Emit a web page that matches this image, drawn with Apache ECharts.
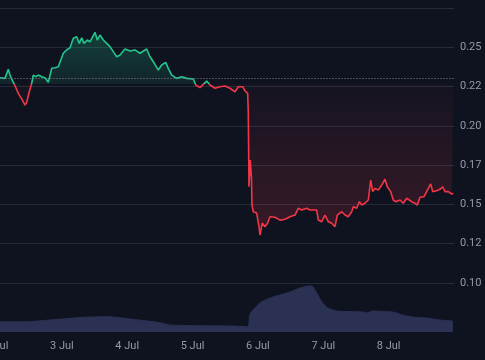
<!DOCTYPE html>
<html>
<head>
<meta charset="utf-8">
<script src="https://cdn.jsdelivr.net/npm/echarts@6/dist/echarts.min.js"></script>
<style>
html,body{margin:0;padding:0;background:#0f1320;}
#c{width:485px;height:360px;}
</style>
</head>
<body>
<div id="c"></div>
<script>
// hours since 2 Jul 00:00
const times = [1.29,3.12,3.75,4.33,4.96,5.58,6.17,6.79,8.0,9.25,10.47,11.09,12.04,12.93,13.51,14.5,15.35,16.6,17.81,19.02,20.27,21.48,22.69,23.32,24.53,25.78,26.99,28.2,29.45,30.4,31.29,32.13,33.34,34.33,36.17,37.01,38.0,39.22,40.47,41.68,42.89,44.14,45.35,47.18,49.02,50.86,52.69,55.15,56.37,57.95,59.42,60.66,62.13,63.09,64.33,66.17,68.0,69.84,72.27,73.15,74.73,75.94,77.19,78.4,80.23,82.07,83.9,85.74,87.57,88.78,90.4,91.25,92.24,92.46,92.72,93.19,93.63,93.82,94.3,95.55,96.39,96.76,97.6,98.59,99.58,100.43,101.05,102.27,104.1,105.94,107.77,109.61,110.82,112.07,113.9,115.12,117.58,118.17,119.41,120.63,121.84,123.09,124.3,125.14,126.76,127.97,129.18,130.43,131.02,132.27,133.22,134.1,135.31,136.53,137.41,138.14,138.99,140.2,141.45,142.66,143.5,144.75,145.71,146.7,148.17,149.38,150.63,152.46,153.68,154.52,155.51,156.98,157.97,159.44,160.17,161.64,162.85,163.84,164.69,165.9,167.15,167.74];
const prices = [0.2306,0.2302,0.2313,0.2360,0.2323,0.2298,0.2277,0.2255,0.2207,0.2171,0.2132,0.2150,0.2217,0.2271,0.2323,0.2313,0.2323,0.2313,0.2306,0.2277,0.2366,0.2370,0.2376,0.2366,0.2462,0.2483,0.2497,0.2557,0.2567,0.2525,0.2561,0.2525,0.2546,0.2535,0.2595,0.2546,0.2578,0.2546,0.2525,0.2504,0.2472,0.2440,0.2451,0.2489,0.2476,0.2483,0.2462,0.2489,0.2440,0.2398,0.2355,0.2387,0.2404,0.2366,0.2323,0.2302,0.2313,0.2302,0.2298,0.2260,0.2243,0.2264,0.2285,0.2260,0.2239,0.2249,0.2253,0.2239,0.2217,0.2249,0.2249,0.2222,0.2207,0.2082,0.1612,0.1782,0.1668,0.1496,0.1453,0.1445,0.1358,0.1305,0.1381,0.1358,0.1381,0.1421,0.1432,0.1418,0.1400,0.1405,0.1421,0.1432,0.1475,0.1464,0.1475,0.1464,0.1464,0.1400,0.1390,0.1432,0.1390,0.1380,0.1358,0.1432,0.1453,0.1432,0.1421,0.1453,0.1485,0.1475,0.1517,0.1496,0.1507,0.1528,0.1655,0.1581,0.1602,0.1591,0.1623,0.1660,0.1612,0.1581,0.1528,0.1517,0.1528,0.1507,0.1539,0.1517,0.1507,0.1496,0.1545,0.1549,0.1581,0.1630,0.1581,0.1587,0.1596,0.1612,0.1581,0.1581,0.1566,0.1570];
const baseValue = 0.2266;
const volTimes = [1.29,11.2,19.6,31.8,40.6,50.1,60.0,63.7,74.7,86.8,92.3,93.1,96.7,100.4,107.8,111.4,114.4,115.8,117.6,119.5,121.7,125.0,134.6,136.0,138.2,145.5,149.2,152.9,158.0,162.8,167.6];
const volumes = [1.03,1.03,1.20,1.47,1.53,1.27,0.93,0.70,0.63,0.60,0.53,1.80,2.90,3.40,4.00,4.40,4.60,4.60,3.90,3.00,2.40,2.10,2.00,1.90,2.10,2.00,1.70,1.50,1.40,1.20,1.10];
const yTickValues = [0.10,0.125,0.15,0.175,0.20,0.225,0.25];
const yTickLabels = ['0.10','0.12','0.15','0.17','0.20','0.22','0.25'];
const dayLabels = ['2 Jul','3 Jul','4 Jul','5 Jul','6 Jul','7 Jul','8 Jul','9 Jul'];

const lineData = times.map((t,i)=>[t,prices[i]]);
const upData = times.map((t,i)=>[t,Math.max(prices[i],baseValue)]);
const downData = times.map((t,i)=>[t,Math.min(prices[i],baseValue)]);
const volData = volTimes.map((t,i)=>[t,volumes[i]]);

const GREEN = '#22c58b', RED = '#f23645', GRIDC = '#262b39', TXT = '#959aa5';
const chart = echarts.init(document.getElementById('c'));
chart.setOption({
  backgroundColor: '#0f1320',
  animation: false,
  textStyle: {fontFamily: 'Roboto'},
  grid: [
    {left: -3.5, right: 31, top: 8, bottom: 37.8, outerBoundsMode: 'none', containLabel: false},
    {left: -3.5, right: 31, top: 8, bottom: 28, outerBoundsMode: 'none', containLabel: false}
  ],
  xAxis: [
    {type:'value', gridIndex:0, min:0, max:168, interval:24, axisLine:{show:false}, axisTick:{show:false}, axisLabel:{show:false}, splitLine:{show:false}},
    {type:'value', gridIndex:1, min:0, max:168, interval:24, axisLine:{show:false}, axisTick:{show:false}, splitLine:{show:false},
     axisLabel:{color:TXT, fontSize:11, margin:9, showMaxLabel:false, formatter:(v)=>dayLabels[Math.round(v/24)]}}
  ],
  yAxis: [
    {type:'value', gridIndex:0, position:'right', min:0.075, max:0.275, interval:0.025,
     axisLine:{show:false}, axisTick:{show:false},
     splitLine:{show:true, showMinLine:false, showMaxLine:true, lineStyle:{color:GRIDC, width:1}},
     axisLabel:{color:TXT, fontSize:11, margin:6, showMinLabel:false, showMaxLabel:false,
       formatter:(v)=>{const k=yTickValues.findIndex(x=>Math.abs(x-v)<1e-6); return k>=0?yTickLabels[k]:'';}}},
    {type:'value', gridIndex:1, position:'right', min:0, max:32.4,
     axisLine:{show:true, lineStyle:{color:GRIDC, width:1}}, axisTick:{show:false}, axisLabel:{show:false}, splitLine:{show:false}}
  ],
  visualMap: {show:false, type:'piecewise', seriesIndex:2, dimension:1,
    pieces:[{gte:0, lt:baseValue, color:RED},{gte:baseValue, lte:1, color:GREEN}], outOfRange:{color:GREEN}},
  series: [
    {type:'line', xAxisIndex:0, yAxisIndex:0, data:upData, showSymbol:false, silent:true, z:1,
     lineStyle:{width:0}, itemStyle:{color:GREEN},
     areaStyle:{origin:baseValue, color:new echarts.graphic.LinearGradient(0,0,0,1,[{offset:0,color:'rgba(34,197,139,0.36)'},{offset:1,color:'rgba(34,197,139,0.14)'}])}},
    {type:'line', xAxisIndex:0, yAxisIndex:0, data:downData, showSymbol:false, silent:true, z:1,
     lineStyle:{width:0}, itemStyle:{color:RED},
     areaStyle:{origin:baseValue, color:new echarts.graphic.LinearGradient(0,0,0,1,[{offset:0,color:'rgba(242,54,69,0.04)'},{offset:1,color:'rgba(242,54,69,0.26)'}])}},
    {type:'line', xAxisIndex:0, yAxisIndex:0, data:lineData, showSymbol:false, z:3,
     lineStyle:{width:1.6},
     markLine:{silent:true, symbol:'none', label:{show:false},
       lineStyle:{type:[1,2], color:'#858996', width:1}, data:[{yAxis:baseValue}]}},
    {type:'line', xAxisIndex:1, yAxisIndex:1, data:volData, showSymbol:false, z:1, smooth:0.2,
     lineStyle:{width:1, color:'#2a3152'}, itemStyle:{color:'#2a3152'},
     areaStyle:{color:'#2a3152', opacity:1}}
  ]
});
</script>
</body>
</html>
